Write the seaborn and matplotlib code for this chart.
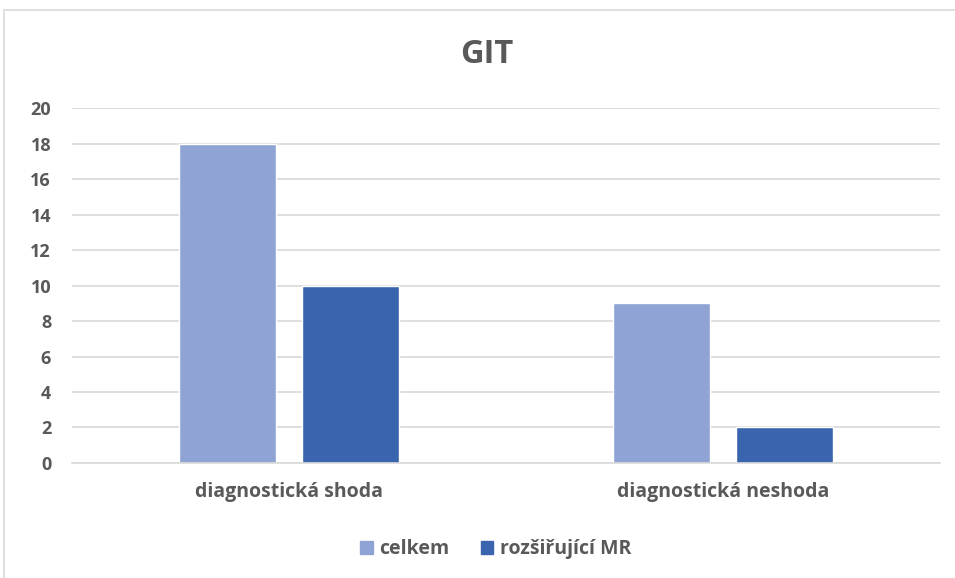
import matplotlib
matplotlib.use('Agg')

import pandas as pd
import matplotlib.pyplot as plt
import seaborn as sns
from matplotlib.patches import Rectangle

# Data
categories = ["diagnostická shoda", "diagnostická neshoda"]
series = ["celkem", "rozšiřující MR"]
celkem = [18, 9]
rozsirujici_mr = [10, 2]
colors = ["#8FA4D5", "#3A64AD"]

data = pd.DataFrame({
    "kategorie": categories * 2,
    "skupina": [series[0]] * 2 + [series[1]] * 2,
    "hodnota": celkem + rozsirujici_mr,
})

sns.set_theme(style="white")
plt.rcParams['font.family'] = ['Open Sans', 'DejaVu Sans']
text_color = "#595959"

fig = plt.figure(figsize=(9.55, 5.78), dpi=100)
ax = fig.add_axes([0.0754, 0.199, 0.9086, 0.614])

sns.barplot(data=data, x="kategorie", y="hodnota", hue="skupina",
            palette=colors, width=0.569, gap=0.215, saturation=1,
            ax=ax, legend=False)

ax.set_ylim(0, 20)
ax.set_yticks(range(0, 21, 2))
ax.set_xlim(-0.5, 1.5)
ax.yaxis.grid(True, color="#D9D9D9", linewidth=1.2)
ax.set_axisbelow(True)
for side in ["top", "right", "left"]:
    ax.spines[side].set_visible(False)
ax.spines["bottom"].set_color("#D9D9D9")
ax.spines["bottom"].set_linewidth(1.2)

ax.set_xlabel("")
ax.set_ylabel("")
ax.tick_params(axis="both", length=0, colors=text_color)
ax.tick_params(axis="y", pad=15)
ax.tick_params(axis="x", pad=14)
for lbl in ax.get_yticklabels():
    lbl.set_fontsize(13)
    lbl.set_fontweight("bold")
    lbl.set_color(text_color)
for lbl in ax.get_xticklabels():
    lbl.set_fontsize(14)
    lbl.set_fontweight("bold")
    lbl.set_color(text_color)

fig.text(0.51, 0.905, "GIT", ha="center", va="center", fontsize=23.5,
         fontweight="bold", color=text_color)

handles = [Rectangle((0, 0), 1, 1, color=c) for c in colors]
fig.legend(handles, series, loc="center", bbox_to_anchor=(0.519, 0.05),
           ncol=2, frameon=False, handlelength=0.65, handleheight=0.65,
           handletextpad=0.35, columnspacing=1.6,
           prop={"size": 14, "weight": "bold"}, labelcolor=text_color)

# Chart border
fig.patches.append(Rectangle((4 / 955, -0.01), 1.0, 1 - 10 / 578 + 0.01,
                             transform=fig.transFigure, fill=False,
                             edgecolor="#D9D9D9", linewidth=1.2))

fig.savefig("out.png", dpi=100)
